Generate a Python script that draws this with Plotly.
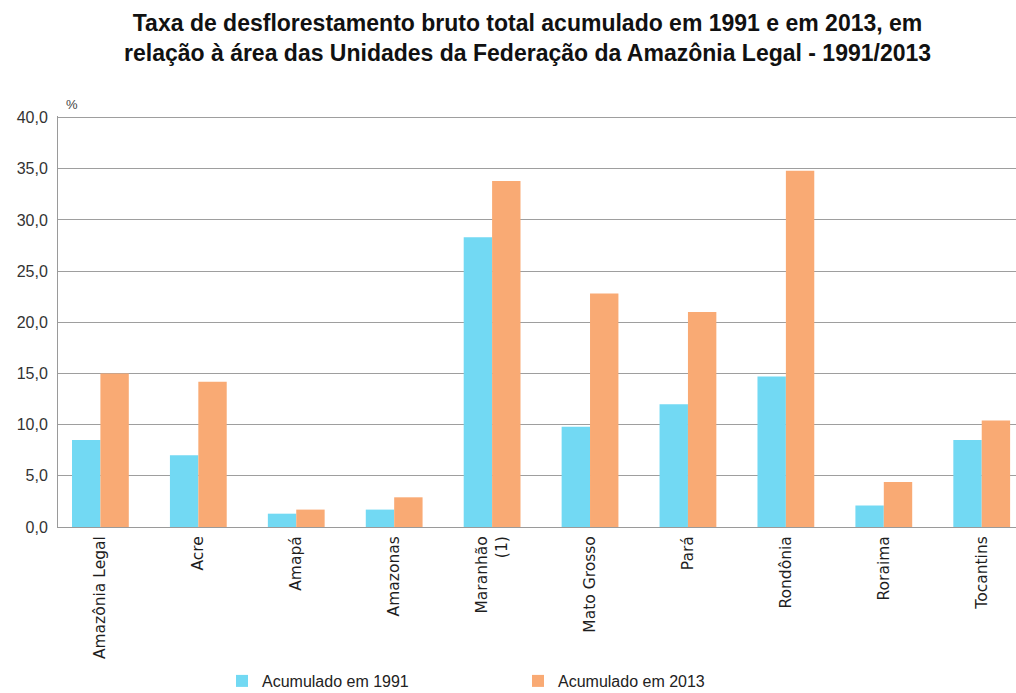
import plotly.graph_objects as go

categories = ["Amazônia Legal", "Acre", "Amapá", "Amazonas", "Maranhão<br>(1)",
              "Mato Grosso", "Pará", "Rondônia", "Roraima", "Tocantins"]
acum_1991 = [8.5, 7.0, 1.3, 1.7, 28.3, 9.8, 12.0, 14.7, 2.1, 8.5]
acum_2013 = [15.0, 14.2, 1.7, 2.9, 33.8, 22.8, 21.0, 34.8, 4.4, 10.4]
series_names = ["Acumulado em 1991", "Acumulado em 2013"]
y_ticks = [0, 5, 10, 15, 20, 25, 30, 35, 40]

title_text = ("Taxa de desflorestamento bruto total acumulado em 1991 e em 2013, em<br>"
              "relação à área das Unidades da Federação da Amazônia Legal - 1991/2013")

fig = go.Figure()
fig.add_trace(go.Bar(x=categories, y=acum_1991, name=series_names[0], showlegend=True,
                     marker=dict(color="#72D9F3", line=dict(width=0)), legend="legend"))
fig.add_trace(go.Bar(x=categories, y=acum_2013, name=series_names[1], showlegend=True,
                     marker=dict(color="#F9AA74", line=dict(width=0)), legend="legend2"))

W, H = 1016, 693
L, R, T, B = 58, 0, 116, 166
pw = W - L - R
ph = H - T - B

def px_x(p):
    return (p - L) / pw

def px_y(p):
    return (H - B - p) / ph

legend_common = dict(orientation="h", xanchor="left", xref="container", yref="container",
                     yanchor="middle", y=1 - 681 / H, bgcolor="rgba(0,0,0,0)",
                     borderwidth=0, font=dict(size=16, color="#222"))

fig.update_layout(
    width=W, height=H,
    margin=dict(l=L, r=R, t=T, b=B, pad=0, autoexpand=False),
    paper_bgcolor="white", plot_bgcolor="white",
    showlegend=True,
    barmode="group", bargap=0.42, bargroupgap=0,
    separators=", ",
    font=dict(family="Liberation Sans, Arial, sans-serif", color="#222"),
    xaxis=dict(type="category", range=[-0.433, 9.35], showgrid=False, automargin=False,
               showline=True, linecolor="#9a9a9a", linewidth=1,
               tickangle=-90, ticks="", ticklabelstandoff=2,
               tickfont=dict(family="DejaVu Sans, sans-serif", size=15.5, color="#1e1e1e")),
    yaxis=dict(range=[0, 40.15], tickvals=y_ticks, tickformat=".1f", automargin=False,
               showgrid=True, gridcolor="#9e9e9e", gridwidth=1,
               zeroline=True, zerolinecolor="#9a9a9a", zerolinewidth=1,
               showline=True, linecolor="#9a9a9a", linewidth=1,
               ticks="", ticklabelstandoff=6,
               tickfont=dict(size=16, color="#333")),
    legend=dict(legend_common, x=222 / W),
    legend2=dict(legend_common, x=518 / W),
    annotations=[
        dict(text=title_text, xref="paper", yref="paper", x=px_x(527), y=px_y(8),
             xanchor="center", yanchor="top", showarrow=False, align="center",
             font=dict(size=23, weight="bold", color="#111",
                       family="Liberation Sans, Arial, sans-serif")),
        dict(text="%", xref="paper", yref="paper", x=px_x(64), y=px_y(105),
             xanchor="left", yanchor="middle", showarrow=False,
             font=dict(size=13, color="#444")),
    ],
)

fig.write_html("out.html", config={"displayModeBar": False},
               post_script="document.body.style.margin='0px';document.body.style.padding='0px';")
